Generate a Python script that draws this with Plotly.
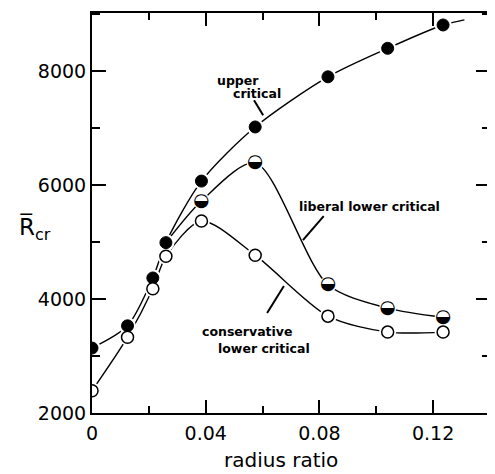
import plotly.graph_objects as go

# ---- data ----
radius_ratio = [0.0, 0.0125, 0.0214, 0.026, 0.0385, 0.0574, 0.083, 0.104, 0.1235]
upper_critical = [3140, 3530, 4370, 4990, 6070, 7020, 7900, 8400, 8810]
conservative_lower = [2390, 3330, 4180, 4750, 5370, 4770, 3700, 3420, 3420]
liberal_x = [0.0385, 0.0574, 0.083, 0.104, 0.1235]
liberal_lower = [5720, 6390, 4250, 3840, 3680]

# curve extents (fitted curves drawn through the points)
upper_curve_x = radius_ratio + [0.131]
upper_curve_y = upper_critical + [8900]
liberal_curve_x = [0.026] + liberal_x
liberal_curve_y = [4990] + liberal_lower

x_tickvals = [0, 0.04, 0.08, 0.12]
x_ticktext = ["0", "0.04", "0.08", "0.12"]
y_tickvals = [2000, 4000, 6000, 8000]
y_ticktext = ["2000", "4000", "6000", "8000"]

FONT = "DejaVu Sans"
MS = 12

fig = go.Figure()

line_style = dict(color="black", width=1.4, shape="spline", smoothing=0.8)
fig.add_trace(go.Scatter(x=upper_curve_x, y=upper_curve_y, mode="lines", line=line_style))
fig.add_trace(go.Scatter(x=liberal_curve_x, y=liberal_curve_y, mode="lines", line=line_style))
fig.add_trace(go.Scatter(x=radius_ratio, y=conservative_lower, mode="lines", line=line_style))

# white halos (gaps in the lines around each marker)
for xs, ys in [(radius_ratio, upper_critical), (liberal_x, liberal_lower), (radius_ratio, conservative_lower)]:
    fig.add_trace(go.Scatter(x=xs, y=ys, mode="markers",
                             marker=dict(size=MS + 5, color="white", line=dict(width=0))))

# upper critical: filled
fig.add_trace(go.Scatter(x=radius_ratio, y=upper_critical, mode="markers",
                         marker=dict(size=MS, color="black", line=dict(color="black", width=1))))
# conservative lower: open
fig.add_trace(go.Scatter(x=radius_ratio, y=conservative_lower, mode="markers",
                         marker=dict(size=MS, color="white", line=dict(color="black", width=1.5))))
# liberal lower: half filled
fig.add_trace(go.Scatter(x=liberal_x, y=liberal_lower, mode="text",
                         text=["\u25D2"] * len(liberal_x), textposition="middle center",
                         textfont=dict(family=FONT, size=18.5, color="black")))

axis_common = dict(showline=True, linecolor="black", linewidth=2, mirror="ticks",
                   ticks="inside", tickcolor="black", tickwidth=2, showgrid=False,
                   zeroline=False, tickfont=dict(family=FONT, size=19, color="black"))

fig.update_xaxes(range=[0, 0.14], tickvals=x_tickvals, ticktext=x_ticktext, ticklen=13,
                 ticklabelstandoff=2,
                 minor=dict(ticks="inside", dtick=0.02, tick0=0, ticklen=7, tickwidth=2,
                            tickcolor="black"),
                 **axis_common)
fig.update_yaxes(range=[2000, 9020], tickvals=y_tickvals, ticktext=y_ticktext, ticklen=14,
                 minor=dict(ticks="inside", dtick=1000, tick0=0, ticklen=8, tickwidth=2,
                            tickcolor="black"),
                 **axis_common)

lab = dict(family=FONT, size=12.5, color="black")
ann = []
ann.append(dict(x=0.0514, y=7840, xref="x", yref="y", text="<b>upper</b>", showarrow=False, font=lab))
ann.append(dict(x=0.0581, y=7614, xref="x", yref="y", text="<b>critical</b>", showarrow=False, font=lab))
ann.append(dict(x=0.0976, y=5631, xref="x", yref="y", text="<b>liberal lower critical</b>", showarrow=False, font=lab))
ann.append(dict(x=0.0546, y=3438, xref="x", yref="y", text="<b>conservative</b>", showarrow=False, font=lab))
ann.append(dict(x=0.0605, y=3140, xref="x", yref="y", text="<b>lower critical</b>", showarrow=False, font=lab))
ann.append(dict(x=0.475, y=0, xref="paper", yref="paper", yanchor="middle", yshift=-47,
                text="radius ratio", showarrow=False,
                font=dict(family=FONT, size=20, color="black")))
ann.append(dict(x=-0.1875, y=0.4625, xref="paper", yref="paper", xanchor="left",
                text="R\u0305<sub>cr</sub>", showarrow=False,
                font=dict(family=FONT, size=23, color="black")))

leaders = [((0.0570, 7490), (0.0602, 7227)),
           ((0.0815, 5455), (0.0742, 5035)),
           ((0.0675, 4228), (0.0616, 3754))]
shapes = [dict(type="line", xref="x", yref="y", x0=a[0], y0=a[1], x1=b[0], y1=b[1],
               line=dict(color="black", width=2)) for a, b in leaders]

# page body has an 8px margin: shrink the figure so the plot area lands where the reference has it
fig.update_layout(width=487, height=466, margin=dict(l=84, r=3, t=5, b=61),
                  paper_bgcolor="white", plot_bgcolor="white", showlegend=False,
                  annotations=ann, shapes=shapes)

fig.write_html("out.html")
